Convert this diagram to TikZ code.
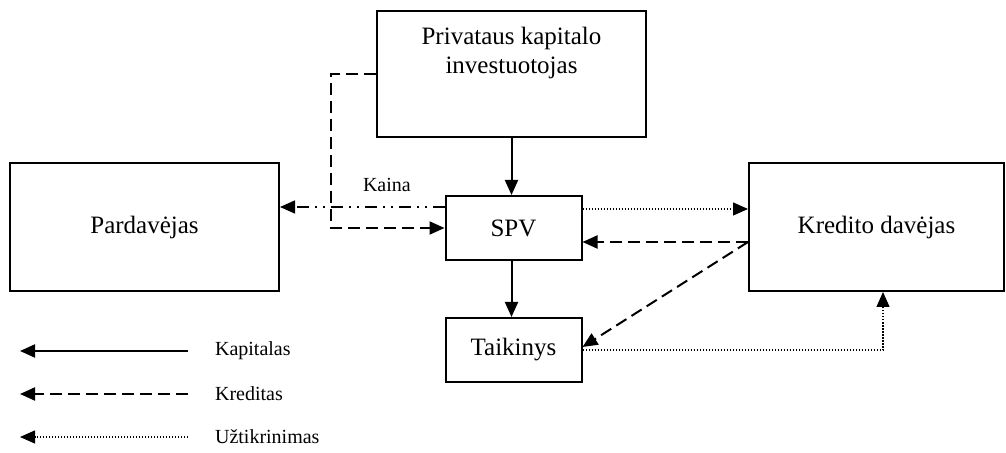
\documentclass[tikz,border=0pt]{standalone}
\usepackage{fontspec}
\setmainfont{Liberation Serif}
\usetikzlibrary{arrows.meta}

\begin{document}
\begin{tikzpicture}[x=0.5pt,y=-0.5pt,
        box/.style={draw,line width=1pt,rectangle,font=\fontsize{12.5}{14.5}\selectfont},
        tip/.style={-{Triangle[length=7.5pt,width=6.5pt]}},
        capital/.style={tip,line width=1pt},
        credit/.style={tip,line width=1pt,dash pattern=on 6pt off 3pt},
        guarantee/.style={tip,line width=0.6pt,dash pattern=on 0.6pt off 0.9pt},
        price/.style={tip,line width=0.8pt,dash pattern=on 6pt off 3pt on 1pt off 3pt on 1pt off 3pt},
        smalltext/.style={font=\fontsize{10}{12}\selectfont},
        legendtext/.style={smalltext,anchor=west}]
        \useasboundingbox (0,0) rectangle (1006,453);

        % parties
        \node[box,minimum width=134.5pt,minimum height=63pt,
            label={[name=invtext,align=center,anchor=north,inner sep=0pt,yshift=-8.25pt,
                font=\fontsize{12.5}{14.5}\selectfont]north:{Privataus kapitalo\\investuotojas}}]
            (inv) at (511.5,74) {};
        \node[box,minimum width=134.5pt,minimum height=64pt] (pard) at (144.5,227) {Pardavėjas};
        \node[box,minimum width=68pt,minimum height=32pt] (spv) at (513.5,228) {SPV};
        \node[box,minimum width=127.5pt,minimum height=64pt] (kred) at (876.5,227) {Kredito davėjas};
        \node[box,minimum width=68pt,minimum height=32pt] (taik) at (513.5,350) {Taikinys};

        % capital
        \draw[capital] (inv.south) -- (inv.south |- spv.north);
        \draw[capital] (spv.south -| inv.south) -- (inv.south |- taik.north);

        % credit
        \draw[credit] (inv.west) -- ++(-45,0) |- (spv.west);
        \draw[credit] ([yshift=-7.5pt]kred.west) -- ([yshift=-7.5pt]kred.west -| spv.east);
        \draw[credit] ([yshift=-7.5pt]kred.west) -- ([yshift=1.5pt]taik.east);

        % price
        \draw[price] ([yshift=10.5pt]spv.west) -- ([yshift=10.5pt]spv.west -| pard.east)
            node[smalltext,above=4pt,pos=0.35] (kaina) {Kaina};

        % guarantee
        \draw[guarantee] ([yshift=9.5pt]spv.east) -- ([yshift=9.5pt]spv.east -| kred.west);
        \draw[guarantee] (taik.east) -| ([xshift=3.25pt]kred.south);

        % legend
        \node[legendtext] (lkap) at (208,351) {Kapitalas};
        \node[legendtext] (lkred) at (208,394) {Kreditas};
        \node[legendtext] (luzt) at (208,437) {Užtikrinimas};
        \draw[capital] ([xshift=-10pt]lkap.west) -- ++(-168,0);
        \draw[credit] ([xshift=-10pt]lkred.west) -- ++(-168,0);
        \draw[guarantee] ([xshift=-10pt]luzt.west) -- ++(-168,0);
    \end{tikzpicture}
\end{document}
